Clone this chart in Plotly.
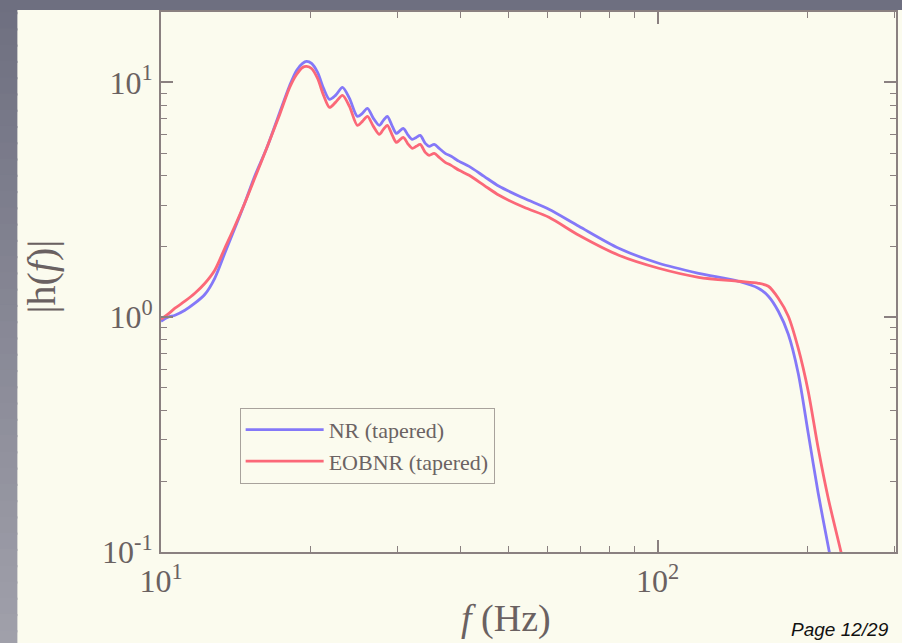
import plotly.graph_objects as go

# Tapered waveform amplitude spectra |h(f)| (frequency in Hz)
nr_freq = [10.00, 10.33, 10.67, 11.17, 11.70, 12.26, 12.83, 13.44, 14.08, 14.74,
           15.44, 16.32, 17.34, 18.16, 18.75, 19.28, 19.64, 20.10, 20.67, 21.25,
           21.84, 22.46, 23.20, 23.96, 24.86, 25.44, 26.04, 26.77, 27.52, 28.04,
           28.56, 29.23, 29.78, 30.19, 30.75, 31.47, 32.06, 32.66, 33.27, 34.05,
           34.68, 35.49, 36.32, 37.35, 38.40, 39.85, 41.73, 44.73, 47.95, 53.82,
           60.40, 69.41, 83.51, 100.5, 120.9, 145.4, 159.5, 167.1, 175.0, 183.3,
           191.9, 201.0, 210.5, 220.5, 225.0]
nr_amp = [0.9616, 1.000, 1.0198, 1.0710, 1.1471, 1.2527, 1.4652, 1.8722, 2.3918, 3.0559,
          3.9811, 5.2390, 7.4542, 9.7102, 11.247, 12.046, 12.285, 12.046, 11.029, 9.4291,
          8.4680, 8.8063, 9.5219, 8.5512, 7.1674, 7.3814, 7.7532, 7.0285, 6.5624, 6.8923,
          7.1674, 6.4985, 6.0672, 6.1872, 6.3726, 5.9496, 5.7214, 5.8343, 5.9496, 5.5016,
          5.3423, 5.4480, 5.2390, 4.9885, 4.8441, 4.6120, 4.3914, 3.9811, 3.6095, 3.2089,
          2.8812, 2.4392, 1.9662, 1.6973, 1.5390, 1.4228, 1.3286, 1.2286, 1.0605, 0.8466,
          0.5776, 0.3209, 0.1783, 0.1061, 0.085]

eob_freq = [10.00, 10.33, 10.67, 11.17, 11.70, 12.26, 12.83, 13.44, 14.08, 14.74,
            15.44, 16.32, 17.34, 18.16, 18.75, 19.28, 19.64, 20.10, 20.67, 21.25,
            21.84, 22.46, 23.20, 23.96, 24.86, 25.44, 26.04, 26.77, 27.52, 28.04,
            28.56, 29.23, 29.78, 30.19, 30.75, 31.47, 32.06, 32.66, 33.27, 34.05,
            34.68, 35.49, 36.32, 37.35, 38.40, 39.85, 41.73, 44.73, 47.95, 53.82,
            60.40, 69.41, 83.51, 100.5, 120.9, 145.4, 159.5, 167.1, 175.0, 183.3,
            191.9, 201.0, 210.5, 220.5, 233.0, 238.0]
eob_amp = [0.9806, 1.0298, 1.0923, 1.1697, 1.2650, 1.3950, 1.5849, 1.9662, 2.4392, 3.0559,
           3.9038, 5.2390, 7.3094, 9.5219, 10.815, 11.583, 11.697, 11.470, 10.400, 8.8063,
           7.8295, 8.2227, 8.8063, 7.9066, 6.5624, 6.8251, 7.1674, 6.4985, 6.0080, 6.3096,
           6.5624, 5.9496, 5.5557, 5.6655, 5.8343, 5.4480, 5.2390, 5.3423, 5.4480, 5.0376,
           4.8918, 4.9885, 4.7969, 4.5670, 4.4346, 4.2227, 4.0209, 3.6450, 3.3046, 2.9382,
           2.6645, 2.2337, 1.8361, 1.6163, 1.4797, 1.4228, 1.3950, 1.3549, 1.2048, 1.0098,
           0.7381, 0.4842, 0.2771, 0.1698, 0.1040, 0.086]

series_names = ["NR (tapered)", "EOBNR (tapered)"]

x_major = [10, 100]
x_major_text = ["10<sup>1</sup>", "10<sup>2</sup>"]
x_minor = [20, 30, 40, 50, 60, 70, 80, 90, 200, 300]
y_major = [0.1, 1, 10]
y_major_text = ["10<sup>-1</sup>", "10<sup>0</sup>", "10<sup>1</sup>"]
y_minor = [0.2, 0.3, 0.4, 0.5, 0.6, 0.7, 0.8, 0.9, 2, 3, 4, 5, 6, 7, 8, 9, 20]

CREAM = "#fbfbee"
AXIS = "#8a8080"
TEXT = "#6a6161"
SERIF = "Liberation Serif, Times New Roman, serif"

fig = go.Figure()
fig.add_trace(go.Scatter(x=nr_freq, y=nr_amp, mode="lines", name=series_names[0],
                         line=dict(color="#8478f8", width=2.8, shape="spline", smoothing=0.8)))
fig.add_trace(go.Scatter(x=eob_freq, y=eob_amp, mode="lines", name=series_names[1],
                         line=dict(color="#fb6878", width=2.8, shape="spline", smoothing=0.8)))

axis_common = dict(
    type="log", showline=True, linecolor=AXIS, linewidth=2, mirror="ticks",
    ticks="inside", ticklen=12, tickwidth=1.5, tickcolor=AXIS,
    showgrid=False, zeroline=False,
    tickfont=dict(family=SERIF, size=32, color=TEXT),
)

fig.update_xaxes(range=[1, 2.48], tickmode="array", tickvals=x_major, ticktext=x_major_text,
                 minor=dict(ticks="inside", ticklen=6, tickwidth=1.2, tickcolor=AXIS,
                            tickmode="array", tickvals=x_minor, showgrid=False),
                 **axis_common)
fig.update_yaxes(range=[-1, 1.30], tickmode="array", tickvals=y_major, ticktext=y_major_text,
                 minor=dict(ticks="inside", ticklen=6, tickwidth=1.2, tickcolor=AXIS,
                            tickmode="array", tickvals=y_minor, showgrid=False),
                 **axis_common)


def blend(c0, c1, t):
    a = [int(c0[i:i + 2], 16) for i in (1, 3, 5)]
    b = [int(c1[i:i + 2], 16) for i in (1, 3, 5)]
    return "#" + "".join(f"{round(p + (q - p) * t):02x}" for p, q in zip(a, b))


# slide frame: graded strip down the left edge, dark strip along the top
shapes = []
n = 40
y_top, y_bot = 1.03, -0.175
step = (y_top - y_bot) / n
for i in range(n):
    shapes.append(dict(type="rect", xref="paper", yref="paper", x0=-0.22, x1=-0.1954,
                       y0=y_top - (i + 1) * step - 0.004, y1=y_top - i * step,
                       fillcolor=blend("#6e6f80", "#a0a0aa", i / (n - 1)),
                       line=dict(width=0), layer="below"))
shapes.append(dict(type="rect", xref="paper", yref="paper", x0=-0.22, x1=1.01,
                   y0=1.0037, y1=1.03, fillcolor="#6e6f80", line=dict(width=0), layer="below"))

annotations = [
    dict(text="|h(<i>f</i>)|", xref="paper", yref="paper", x=-0.162, y=0.51,
         textangle=-90, showarrow=False, xanchor="center", yanchor="middle",
         font=dict(family=SERIF, size=40, color=TEXT)),
    dict(text="<i>f</i> (Hz)", xref="paper", yref="paper", x=0.47, y=-0.124,
         showarrow=False, xanchor="center", yanchor="middle",
         font=dict(family=SERIF, size=38, color=TEXT)),
    dict(text="<i>Page 12/29</i>", xref="paper", yref="paper", x=0.993, y=-0.143,
         showarrow=False, xanchor="right", yanchor="middle",
         font=dict(family="Liberation Sans, Arial, sans-serif", size=19, color="#111111")),
]

fig.update_layout(
    width=902, height=643,
    margin=dict(l=161, r=4, t=12, b=91),
    paper_bgcolor=CREAM, plot_bgcolor=CREAM,
    shapes=shapes, annotations=annotations,
    showlegend=True,
    legend=dict(x=0.107, y=0.267, xanchor="left", yanchor="top",
                bgcolor=CREAM, bordercolor="#a8a29c", borderwidth=1,
                font=dict(family=SERIF, size=22, color="#6b6363"),
                itemwidth=78, tracegroupgap=0),
)

fig.write_html("out.html")
